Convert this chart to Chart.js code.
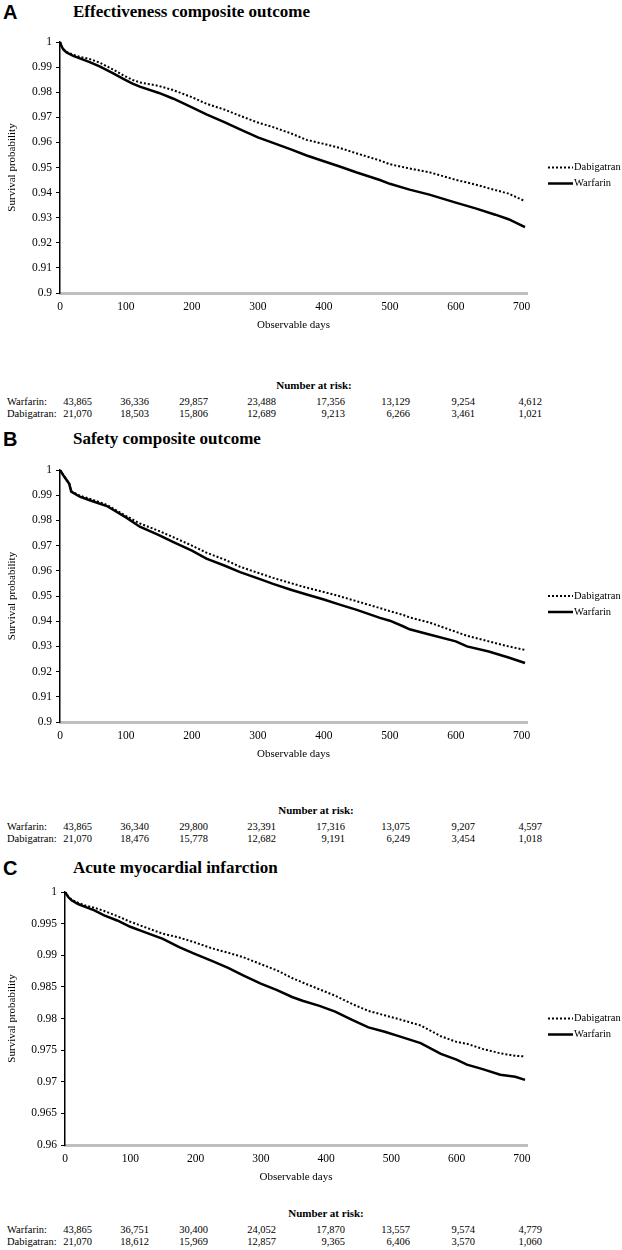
<!DOCTYPE html>
<html>
<head>
<meta charset="utf-8">
<script src="https://cdn.jsdelivr.net/npm/chart.js@4"></script>
<style>
  body { margin: 0; background: #fff; }
  #page { position: relative; width: 622px; height: 1250px; overflow: hidden;
          font-family: "Liberation Serif", "Times New Roman", serif; color: #000; }
  .letter { position: absolute; left: 3px; font: bold 20px "Liberation Sans", Arial, sans-serif; line-height: 20px; }
  .title { position: absolute; left: 73px; font-weight: bold; font-size: 17px; line-height: 20px; white-space: nowrap; }
  .panel { position: absolute; left: 0; width: 622px; }
  .txt { position: absolute; font-size: 10.5px; line-height: 12px; white-space: nowrap; }
  .head { font-weight: bold; font-size: 11px; transform: translateX(-50%); }
</style>
</head>
<body>
<div id="page"></div>
<script>
// ---- data ----
const xTicks = [0, 100, 200, 300, 400, 500, 600, 700];
const yTicksAB = [0.9, 0.91, 0.92, 0.93, 0.94, 0.95, 0.96, 0.97, 0.98, 0.99, 1];
const yTicksC = [0.96, 0.965, 0.97, 0.975, 0.98, 0.985, 0.99, 0.995, 1];

// A: effectiveness composite outcome
const daysA = [0, 2, 5, 10, 20, 30, 45, 60, 80, 96, 110, 121, 150, 172, 200, 222, 250, 273, 300, 323,
               350, 374, 400, 424, 450, 485, 500, 530, 560, 600, 630, 660, 680, 705];
const warfarinA = [1, 0.9985, 0.997, 0.9958, 0.9945, 0.9935, 0.992, 0.9903, 0.9876, 0.9853, 0.9834, 0.9822,
                   0.9797, 0.9774, 0.974, 0.9712, 0.968, 0.9652, 0.962, 0.9598, 0.9572, 0.9548, 0.9525,
                   0.9504, 0.948, 0.945, 0.9435, 0.9412, 0.9392, 0.936, 0.9337, 0.9312, 0.9294, 0.9262];
const dabigatranA = [1, 0.9986, 0.9972, 0.996, 0.9949, 0.9941, 0.9932, 0.9918, 0.9891, 0.9867, 0.9849, 0.9839,
                     0.9825, 0.9808, 0.978, 0.9754, 0.973, 0.9706, 0.9679, 0.9661, 0.9636, 0.961, 0.9594,
                     0.9578, 0.9556, 0.9528, 0.9513, 0.9496, 0.9481, 0.9451, 0.9432, 0.941, 0.9396, 0.9366];
const riskWarfarinA = ['43,865', '36,336', '29,857', '23,488', '17,356', '13,129', '9,254', '4,612'];
const riskDabigatranA = ['21,070', '18,503', '15,806', '12,689', '9,213', '6,266', '3,461', '1,021'];

// B: safety composite outcome
const daysB = [0, 6, 14, 17, 30, 45, 71, 100, 121, 150, 172, 200, 222, 250, 273, 300, 323, 350, 374, 400,
               424, 450, 485, 500, 520, 530, 560, 600, 617, 650, 680, 705];
const warfarinB = [1, 0.9975, 0.9945, 0.9914, 0.9894, 0.988, 0.9857, 0.9812, 0.9775, 0.9742, 0.9714, 0.968,
                   0.9648, 0.962, 0.9595, 0.957, 0.9548, 0.9525, 0.9506, 0.9486, 0.9466, 0.9445, 0.9413,
                   0.9402, 0.938, 0.9368, 0.9347, 0.932, 0.93, 0.928, 0.9256, 0.9234];
const dabigatranB = [1, 0.9976, 0.9946, 0.9916, 0.9898, 0.9886, 0.9862, 0.9818, 0.9788, 0.9758, 0.9733, 0.97,
                     0.9672, 0.9644, 0.9616, 0.9592, 0.9572, 0.9551, 0.9533, 0.9516, 0.9499, 0.9479, 0.9452,
                     0.944, 0.9425, 0.9415, 0.9395, 0.9358, 0.9342, 0.932, 0.93, 0.9286];
const riskWarfarinB = ['43,865', '36,340', '29,800', '23,391', '17,316', '13,075', '9,207', '4,597'];
const riskDabigatranB = ['21,070', '18,476', '15,778', '12,682', '9,191', '6,249', '3,454', '1,018'];

// C: acute myocardial infarction
const daysC = [0, 5, 10, 20, 30, 45, 60, 80, 100, 121, 150, 175, 197, 225, 250, 273, 300, 325, 348, 364,
               390, 414, 440, 465, 490, 515, 545, 576, 600, 616, 640, 667, 690, 705];
const warfarinC = [1, 0.9992, 0.9987, 0.9981, 0.9977, 0.9971, 0.9963, 0.9955, 0.9945, 0.9937, 0.9926, 0.9913,
                   0.9903, 0.9891, 0.988, 0.9868, 0.9855, 0.9845, 0.9834, 0.9828, 0.982, 0.9811, 0.9798,
                   0.9786, 0.9779, 0.9771, 0.9761, 0.9744, 0.9735, 0.9727, 0.972, 0.9711, 0.9708, 0.9703];
const dabigatranC = [1, 0.9993, 0.9988, 0.9983, 0.9979, 0.9975, 0.997, 0.9962, 0.9953, 0.9945, 0.9934, 0.9928,
                     0.9921, 0.9911, 0.9904, 0.9897, 0.9886, 0.9876, 0.9864, 0.9857, 0.9846, 0.9836, 0.9823,
                     0.9812, 0.9805, 0.9798, 0.9789, 0.9772, 0.9763, 0.976, 0.9752, 0.9745, 0.9741, 0.974];
const riskWarfarinC = ['43,865', '36,751', '30,400', '24,052', '17,870', '13,557', '9,574', '4,779'];
const riskDabigatranC = ['21,070', '18,612', '15,969', '12,857', '9,365', '6,406', '3,570', '1,060'];

// ---- layout ----
const SERIF = '"Liberation Serif", "Times New Roman", serif';
const colRight = [92, 149, 208, 276, 345, 410, 475, 542];

const panels = [
  { letter: 'A', title: 'Effectiveness composite outcome', titleY: 2, top: 42, bottom: 293, axisW: 60,
    yTicks: yTicksAB, days: daysA, war: warfarinA, dab: dabigatranA,
    riskW: riskWarfarinA, riskD: riskDabigatranA, narY: 379, narX: 314 },
  { letter: 'B', title: 'Safety composite outcome', titleY: 429, top: 470, bottom: 722, axisW: 60,
    yTicks: yTicksAB, days: daysB, war: warfarinB, dab: dabigatranB,
    riskW: riskWarfarinB, riskD: riskDabigatranB, narY: 804, narX: 316 },
  { letter: 'C', title: 'Acute myocardial infarction', titleY: 858, top: 892, bottom: 1145, axisW: 65,
    yTicks: yTicksC, days: daysC, war: warfarinC, dab: dabigatranC,
    riskW: riskWarfarinC, riskD: riskDabigatranC, narY: 1207, narX: 326 }
];

const page = document.getElementById('page');

function addText(cls, text, css) {
  const d = document.createElement('div');
  d.className = cls;
  d.textContent = text;
  Object.assign(d.style, css);
  page.appendChild(d);
  return d;
}

const sideLegend = {
  id: 'sideLegend',
  afterDraw(chart) {
    const { ctx, chartArea } = chart;
    const x0 = chartArea.right + 21;
    const yc = (chartArea.top + chartArea.bottom) / 2;
    chart.data.datasets.forEach((ds, i) => {
      const y = yc + i * 16;
      ctx.save();
      ctx.strokeStyle = '#000';
      ctx.lineWidth = ds.borderWidth;
      ctx.setLineDash(ds.borderDash || []);
      ctx.beginPath();
      ctx.moveTo(x0, y);
      ctx.lineTo(x0 + 25, y);
      ctx.stroke();
      ctx.setLineDash([]);
      ctx.fillStyle = '#000';
      ctx.font = '10.5px ' + SERIF;
      ctx.textBaseline = 'middle';
      ctx.fillText(ds.label, x0 + 26, y);
      ctx.restore();
    });
  }
};

panels.forEach(p => {
  addText('letter', p.letter, { top: p.titleY + 'px' });
  addText('title', p.title, { top: p.titleY + 'px' });

  const canvasTop = p.top - 12;
  const canvasH = p.bottom + 39 - canvasTop;
  const wrap = document.createElement('div');
  wrap.className = 'panel';
  wrap.style.top = canvasTop + 'px';
  wrap.style.height = canvasH + 'px';
  const cv = document.createElement('canvas');
  wrap.appendChild(cv);
  page.appendChild(wrap);

  new Chart(cv.getContext('2d'), {
    type: 'line',
    data: {
      datasets: [
        { label: 'Dabigatran', data: p.days.map((d, i) => ({ x: d, y: p.dab[i] })),
          borderColor: '#000', borderWidth: 2, borderDash: [2, 2], pointRadius: 0, tension: 0 },
        { label: 'Warfarin', data: p.days.map((d, i) => ({ x: d, y: p.war[i] })),
          borderColor: '#000', borderWidth: 2.5, pointRadius: 0, tension: 0 }
      ]
    },
    options: {
      responsive: true,
      maintainAspectRatio: false,
      animation: false,
      layout: { padding: { top: 12, right: 95, bottom: 0, left: 0 } },
      plugins: { legend: { display: false }, tooltip: { enabled: false } },
      scales: {
        x: {
          type: 'linear', min: 0, max: 708,
          afterBuildTicks: s => { s.ticks = xTicks.map(v => ({ value: v })); },
          afterFit: s => { s.height = 39; },
          grid: { display: false, drawTicks: false },
          border: { color: '#bfbfbf', width: 3 },
          ticks: { color: '#000', padding: 7, maxRotation: 0, font: { family: SERIF, size: 11.5 } },
          title: { display: true, text: 'Observable days', color: '#000', padding: 0,
                   font: { family: SERIF, size: 11 } }
        },
        y: {
          min: p.yTicks[0], max: 1,
          afterBuildTicks: s => { s.ticks = p.yTicks.map(v => ({ value: v })); },
          afterFit: s => { s.width = p.axisW; },
          grid: { drawOnChartArea: false, drawTicks: true, tickLength: 4, color: '#000', lineWidth: 1 },
          border: { color: '#000', width: 1.5 },
          ticks: { color: '#000', padding: 4, font: { family: SERIF, size: 11.5 },
                   callback: v => String(+v.toFixed(3)) },
          title: { display: true, text: 'Survival probability', color: '#000',
                   padding: { top: 6, bottom: 0 }, font: { family: SERIF, size: 11 } }
        }
      }
    },
    plugins: [sideLegend]
  });

  // number at risk table
  addText('txt head', 'Number at risk:', { top: p.narY + 'px', left: p.narX + 'px' });
  const rows = [['Warfarin:', p.riskW], ['Dabigatran:', p.riskD]];
  rows.forEach(([name, vals], r) => {
    const y = p.narY + 17 + r * 12;
    addText('txt', name, { top: y + 'px', left: '7px' });
    vals.forEach((v, i) => {
      addText('txt', v, { top: y + 'px', right: (622 - colRight[i]) + 'px', textAlign: 'right' });
    });
  });
});
</script>
</body>
</html>
